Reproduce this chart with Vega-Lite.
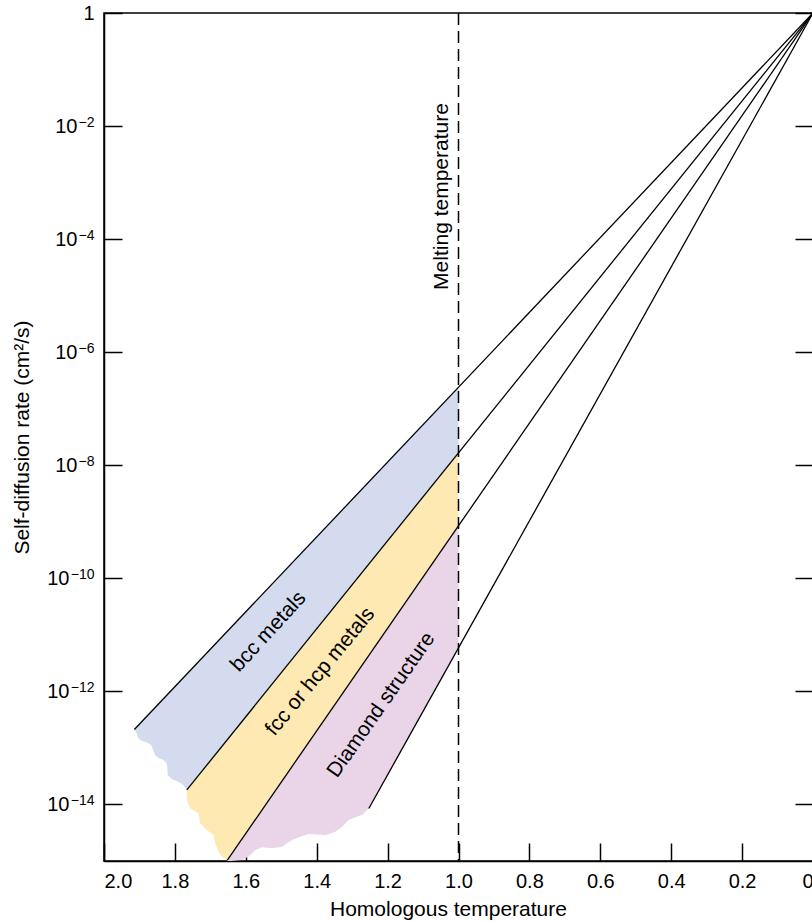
{
  "$schema": "https://vega.github.io/schema/vega-lite/v6.json",
  "width": 709,
  "height": 848,
  "autosize": {"type": "none"},
  "padding": {"left": 104, "top": 13, "right": 0, "bottom": 61},
  "background": "white",
  "config": {
    "view": {"stroke": "black", "strokeWidth": 1.5},
    "font": "Liberation Sans",
    "axis": {
      "domainColor": "black", "domainWidth": 1.5,
      "tickColor": "black", "tickWidth": 1.5, "tickSize": -18,
      "labelColor": "black", "labelFontSize": 20, "labelFont": "Liberation Sans",
      "titleFontSize": 21, "titleFontWeight": "normal", "titleColor": "black", "titleFont": "Liberation Sans",
      "grid": false
    }
  },
  "datasets": {
    "regions": [
      {"region":"bcc","T":1.0,"rate":1.660e-8,"rate2":2.399e-7},
      {"region":"bcc","T":1.7664,"rate":1.807e-14,"rate2":2.023e-12},
      {"region":"bcc","T":1.776,"rate":2.203e-14,"rate2":1.750e-12},
      {"region":"bcc","T":1.7901,"rate":2.524e-14,"rate2":1.409e-12},
      {"region":"bcc","T":1.8088,"rate":2.818e-14,"rate2":1.062e-12},
      {"region":"bcc","T":1.8201,"rate":3.311e-14,"rate2":8.933e-13},
      {"region":"bcc","T":1.8212,"rate":4.355e-14,"rate2":8.790e-13},
      {"region":"bcc","T":1.8229,"rate":5.333e-14,"rate2":8.551e-13},
      {"region":"bcc","T":1.8325,"rate":6.109e-14,"rate2":7.396e-13},
      {"region":"bcc","T":1.8466,"rate":6.714e-14,"rate2":5.970e-13},
      {"region":"bcc","T":1.8559,"rate":7.482e-14,"rate2":5.176e-13},
      {"region":"bcc","T":1.8607,"rate":9.183e-14,"rate2":4.808e-13},
      {"region":"bcc","T":1.8672,"rate":1.125e-13,"rate2":4.355e-13},
      {"region":"bcc","T":1.8794,"rate":1.256e-13,"rate2":3.614e-13},
      {"region":"bcc","T":1.8935,"rate":1.324e-13,"rate2":2.917e-13},
      {"region":"bcc","T":1.9048,"rate":1.514e-13,"rate2":2.455e-13},
      {"region":"bcc","T":1.9076,"rate":1.811e-13,"rate2":2.355e-13},
      {"region":"bcc","T":1.9144,"rate":2.123e-13,"rate2":2.123e-13},
      {"region":"fcc","T":1.0,"rate":8.511e-10,"rate2":1.660e-8},
      {"region":"fcc","T":1.652,"rate":1.038e-15,"rate2":1.403e-13},
      {"region":"fcc","T":1.663,"rate":1.114e-15,"rate2":1.153e-13},
      {"region":"fcc","T":1.6771,"rate":1.459e-15,"rate2":8.954e-14},
      {"region":"fcc","T":1.6864,"rate":2.051e-15,"rate2":7.586e-14},
      {"region":"fcc","T":1.6912,"rate":2.877e-15,"rate2":6.950e-14},
      {"region":"fcc","T":1.7099,"rate":3.532e-15,"rate2":4.977e-14},
      {"region":"fcc","T":1.7288,"rate":4.634e-15,"rate2":3.548e-14},
      {"region":"fcc","T":1.7336,"rate":6.966e-15,"rate2":3.258e-14},
      {"region":"fcc","T":1.7571,"rate":8.531e-15,"rate2":2.138e-14},
      {"region":"fcc","T":1.7664,"rate":1.202e-14,"rate2":1.807e-14},
      {"region":"diamond","T":1.0,"rate":5.888e-12,"rate2":8.511e-10},
      {"region":"diamond","T":1.253,"rate":8.492e-15,"rate2":4.315e-12},
      {"region":"diamond","T":1.272,"rate":6.501e-15,"rate2":2.904e-12},
      {"region":"diamond","T":1.291,"rate":5.916e-15,"rate2":1.954e-12},
      {"region":"diamond","T":1.3099,"rate":5.297e-15,"rate2":1.315e-12},
      {"region":"diamond","T":1.3285,"rate":4.036e-15,"rate2":8.913e-13},
      {"region":"diamond","T":1.3475,"rate":3.289e-15,"rate2":5.998e-13},
      {"region":"diamond","T":1.3757,"rate":2.877e-15,"rate2":3.327e-13},
      {"region":"diamond","T":1.4229,"rate":2.999e-15,"rate2":1.242e-13},
      {"region":"diamond","T":1.4463,"rate":2.685e-15,"rate2":7.621e-14},
      {"region":"diamond","T":1.4698,"rate":2.350e-15,"rate2":4.667e-14},
      {"region":"diamond","T":1.498,"rate":1.786e-15,"rate2":2.588e-14},
      {"region":"diamond","T":1.5263,"rate":1.675e-15,"rate2":1.432e-14},
      {"region":"diamond","T":1.5545,"rate":1.742e-15,"rate2":7.962e-15},
      {"region":"diamond","T":1.5734,"rate":1.563e-15,"rate2":5.358e-15},
      {"region":"diamond","T":1.5924,"rate":1.189e-15,"rate2":3.606e-15},
      {"region":"diamond","T":1.611,"rate":1.040e-15,"rate2":2.444e-15},
      {"region":"diamond","T":1.6441,"rate":1e-15,"rate2":1.225e-15},
      {"region":"diamond","T":1.652,"rate":1e-15,"rate2":1.038e-15}
    ],
    "lines": [
      {"line":"a","T":0,"rate":1},{"line":"a","T":1.9144,"rate":2.123e-13},
      {"line":"b","T":0,"rate":1},{"line":"b","T":1.7664,"rate":1.807e-14},
      {"line":"c","T":0,"rate":1},{"line":"c","T":1.652,"rate":1.038e-15},
      {"line":"d","T":0,"rate":1},{"line":"d","T":1.253,"rate":8.492e-15}
    ]
  },
  "encoding": {
    "x": {
      "field": "T", "type": "quantitative",
      "scale": {"domain": [0, 2], "reverse": true, "nice": false, "zero": false},
      "axis": {
        "values": [2, 1.8, 1.6, 1.4, 1.2, 1, 0.8, 0.6, 0.4, 0.2, 0],
        "labelExpr": "datum.value == 0 ? '0' : format(datum.value, '.1f')",
        "title": "Homologous temperature",
        "labelPadding": 28, "titlePadding": 7, "titleX": 344
      }
    }
  },
  "layer": [
    {
      "data": {"name": "regions"},
      "mark": {"type": "area", "orient": "vertical", "opacity": 1, "strokeWidth": 0},
      "encoding": {
        "y": {
          "field": "rate", "type": "quantitative",
          "scale": {"type": "log", "domain": [1e-15, 1], "nice": false},
          "axis": {
            "values": [1, 1e-2, 1e-4, 1e-6, 1e-8, 1e-10, 1e-12, 1e-14],
            "labelExpr": "datum.value >= 0.5 ? '1' : '10'",
            "labelPadding": {"condition": [{"test": "datum.value >= 0.5", "value": 28}, {"test": "datum.value < 1e-9", "value": 53}], "value": 45},
            "title": "Self-diffusion rate (cm²/s)",
            "titlePadding": 14
          }
        },
        "y2": {"field": "rate2"},
        "color": {
          "field": "region", "type": "nominal",
          "scale": {"domain": ["bcc", "fcc", "diamond"], "range": ["#d5dbee", "#fde9b1", "#ead4e8"]},
          "legend": null
        }
      }
    },
    {
      "data": {"name": "lines"},
      "mark": {"type": "line", "color": "black", "strokeWidth": 1.3},
      "encoding": {
        "y": {
          "field": "rate", "type": "quantitative",
          "axis": {
            "orient": "right", "labels": false, "title": null,
            "values": [1, 1e-2, 1e-4, 1e-6, 1e-8, 1e-10, 1e-12, 1e-14]
          }
        },
        "detail": {"field": "line"}
      }
    },
    {
      "data": {"values": [{"T": 1.0}]},
      "mark": {"type": "rule", "color": "black", "strokeWidth": 1.5, "strokeDash": [12, 6]},
      "encoding": {}
    },
    {
      "data": {"values": [{"label": "Melting temperature", "T": 1.0466, "rate": 5.676e-4}]},
      "mark": {"type": "text", "angle": 270, "fontSize": 21, "align": "center", "baseline": "middle", "color": "black"},
      "encoding": {
        "y": {
          "field": "rate", "type": "quantitative",
          "axis": {
            "orient": "left", "title": null, "domain": false, "ticks": false, "tickSize": 0,
            "values": [1e-2, 1e-4, 1e-6, 1e-8, 1e-10, 1e-12, 1e-14],
            "labelExpr": "'−' + round(-log(datum.value)/LN10)",
            "labelFontSize": 14, "labelBaseline": "alphabetic", "labelAlign": "right", "labelPadding": 10
          }
        },
        "text": {"field": "label"}
      }
    },
    {
      "data": {"values": [{"label": "bcc metals", "T": 1.5359, "rate": 1.135e-11}]},
      "mark": {"type": "text", "angle": 312.5, "fontSize": 21, "align": "center", "baseline": "middle", "color": "black"},
      "encoding": {"y": {"field": "rate", "type": "quantitative", "axis": null}, "text": {"field": "label"}}
    },
    {
      "data": {"values": [{"label": "fcc or hcp metals", "T": 1.3898, "rate": 2.228e-12}]},
      "mark": {"type": "text", "angle": 309.4, "fontSize": 21, "align": "center", "baseline": "middle", "color": "black"},
      "encoding": {"y": {"field": "rate", "type": "quantitative", "axis": null}, "text": {"field": "label"}}
    },
    {
      "data": {"values": [{"label": "Diamond structure", "T": 1.2175, "rate": 5.741e-13}]},
      "mark": {"type": "text", "angle": 305, "fontSize": 21, "align": "center", "baseline": "middle", "color": "black"},
      "encoding": {"y": {"field": "rate", "type": "quantitative", "axis": null}, "text": {"field": "label"}}
    }
  ],
  "resolve": {"axis": {"y": "independent"}}
}
